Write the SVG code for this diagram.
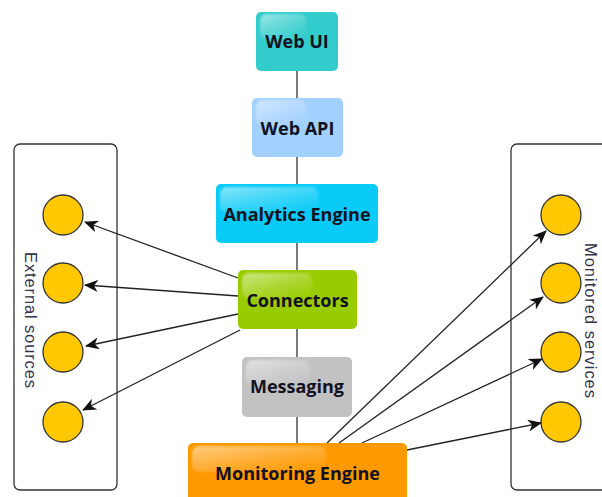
<svg xmlns="http://www.w3.org/2000/svg" width="602" height="497" viewBox="0 0 602 497">
  <style>
    .container { fill: #ffffff; stroke: #333333; stroke-width: 1.3; }
    .group-label { font-family: "Liberation Sans", Arial, sans-serif; font-size: 16.5px; fill: #33334d; }
    .node-box { stroke: none; }
    .gloss { fill: url(#gloss); }
    .node-label { font-family: "Open Sans", "Noto Sans", sans-serif; font-weight: bold; font-size: 18px; fill: #111122; text-anchor: middle; }
    .endpoint { fill: #FFC800; stroke: #333333; stroke-width: 1.3; }
    .link { stroke: #333333; stroke-width: 1.3; fill: none; }
    .arrow { stroke: #222222; stroke-width: 1.3; fill: none; marker-end: url(#arrowhead); }
  </style>
  <defs>
    <linearGradient id="gloss" x1="0" y1="0" x2="0.8" y2="1">
      <stop offset="0" stop-color="#ffffff" stop-opacity="0.5"/>
      <stop offset="0.6" stop-color="#ffffff" stop-opacity="0.18"/>
      <stop offset="1" stop-color="#ffffff" stop-opacity="0.02"/>
    </linearGradient>
    <filter id="soften" x="-10%" y="-20%" width="120%" height="140%">
      <feGaussianBlur stdDeviation="0.8"/>
    </filter>
    <marker id="arrowhead" markerUnits="userSpaceOnUse" markerWidth="14" markerHeight="12" viewBox="0 0 14 12" refX="13" refY="6" orient="auto">
      <path d="M0,0 L14,6 L0,12 L4,6 Z" fill="#111111"/>
    </marker>
  </defs>

  <!-- grouping boxes -->
  <g id="external-sources">
    <rect class="container" x="14" y="144" width="103" height="346" rx="6"/>
    <text class="group-label" transform="translate(25,252) rotate(90)" textLength="136" lengthAdjust="spacing">External sources</text>
    <circle class="endpoint" cx="63" cy="215" r="20"/>
    <circle class="endpoint" cx="63" cy="283" r="20"/>
    <circle class="endpoint" cx="63" cy="352" r="20"/>
    <circle class="endpoint" cx="63" cy="422" r="20"/>
  </g>
  <g id="monitored-services">
    <rect class="container" x="511" y="144" width="120" height="346" rx="6"/>
    <text class="group-label" transform="translate(585,243) rotate(90)" textLength="155" lengthAdjust="spacing">Monitored services</text>
    <circle class="endpoint" cx="561" cy="215" r="20"/>
    <circle class="endpoint" cx="561" cy="283" r="20"/>
    <circle class="endpoint" cx="561" cy="352" r="20"/>
    <circle class="endpoint" cx="561" cy="422" r="20"/>
  </g>

  <!-- connectors -->
  <g id="connectors">
    <line class="link" x1="297" y1="71" x2="297" y2="443"/>
    <line class="arrow" x1="238" y1="278" x2="85" y2="222"/>
    <line class="arrow" x1="238" y1="296" x2="85" y2="285"/>
    <line class="arrow" x1="238" y1="314" x2="86" y2="346"/>
    <line class="arrow" x1="240" y1="330" x2="83" y2="410"/>
    <line class="arrow" x1="327" y1="443" x2="546" y2="231"/>
    <line class="arrow" x1="339" y1="443" x2="543" y2="297"/>
    <line class="arrow" x1="362" y1="443" x2="542" y2="359"/>
    <line class="arrow" x1="407" y1="450" x2="541" y2="423"/>
  </g>

  <!-- stack nodes -->
  <g id="web-ui">
    <rect class="node-box" x="256" y="12" width="82" height="59" rx="5" fill="#33CCCC"/>
    <rect class="gloss" x="260" y="14" width="46" height="25" rx="7" filter="url(#soften)"/>
    <text class="node-label" x="297" y="48">Web UI</text>
  </g>
  <g id="web-api">
    <rect class="node-box" x="252" y="98" width="91" height="59" rx="5" fill="#A3D1FF"/>
    <rect class="gloss" x="256" y="100" width="50" height="25" rx="7" filter="url(#soften)"/>
    <text class="node-label" x="297.5" y="135">Web API</text>
  </g>
  <g id="analytics-engine">
    <rect class="node-box" x="216" y="184" width="162" height="59" rx="5" fill="#0ACBF7"/>
    <rect class="gloss" x="220" y="187" width="98" height="25" rx="7" filter="url(#soften)"/>
    <text class="node-label" x="297" y="221">Analytics Engine</text>
  </g>
  <g id="connectors-node">
    <rect class="node-box" x="238" y="270" width="119" height="59" rx="5" fill="#99CC00"/>
    <rect class="gloss" x="242" y="273" width="70" height="25" rx="7" filter="url(#soften)"/>
    <text class="node-label" x="297.5" y="307">Connectors</text>
  </g>
  <g id="messaging">
    <rect class="node-box" x="242" y="357" width="110" height="60" rx="5" fill="#C2C2C2"/>
    <rect class="gloss" x="246" y="360" width="64" height="25" rx="7" filter="url(#soften)"/>
    <text class="node-label" x="297" y="393">Messaging</text>
  </g>
  <g id="monitoring-engine">
    <rect class="node-box" x="188" y="443" width="219" height="62" rx="5" fill="#FF9900"/>
    <rect class="gloss" x="192" y="446" width="134" height="26" rx="7" filter="url(#soften)"/>
    <text class="node-label" x="297.5" y="480">Monitoring Engine</text>
  </g>
</svg>
